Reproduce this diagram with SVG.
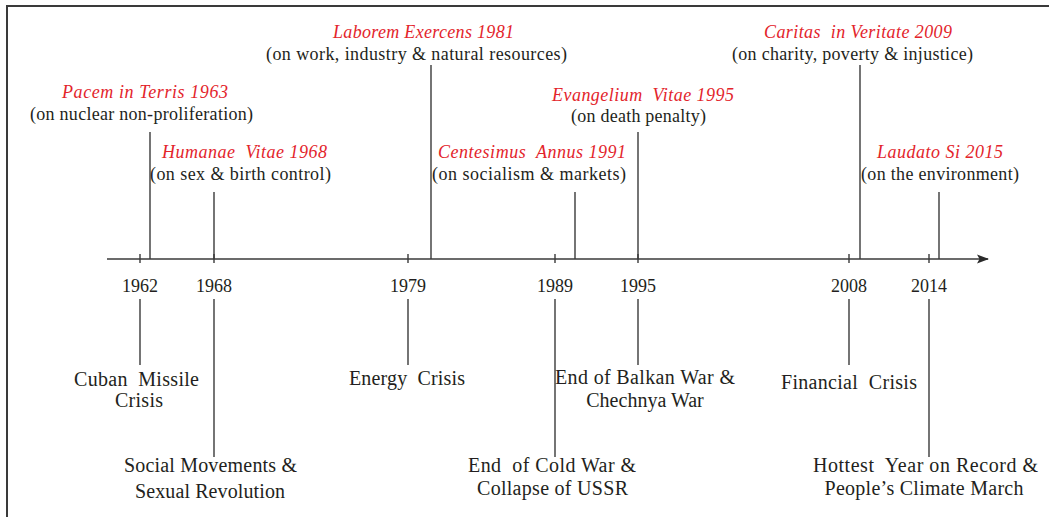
<svg xmlns="http://www.w3.org/2000/svg" width="1049" height="517" viewBox="0 0 1049 517">
<style>
  text { font-family: "Liberation Serif", "Times New Roman", serif; fill: #231f20; text-anchor: middle; }
  .red { fill: #e3242b; font-style: italic; font-size: 18px; }
  .top { font-size: 18px; }
  .yr { font-size: 18px; }
  .low { font-size: 20px; }
  .ln { stroke: #3a3a3a; stroke-width: 1.4; fill: none; }
  .frame { stroke: #3a3a3a; stroke-width: 2; fill: none; }
</style>
<defs>
  <marker id="arrow" viewBox="0 0 12 10" refX="11" refY="5" markerWidth="12" markerHeight="10" markerUnits="userSpaceOnUse" orient="auto">
    <path d="M0,0.5 L12,5 L0,9.5 L2.5,5 Z" fill="#2a2a2a"/>
  </marker>
</defs>
<rect width="1049" height="517" fill="#ffffff"/>
<path class="frame" d="M7,517 L7,6 L1049,6"/>

<g id="connectors">
  <line class="ln" x1="107" y1="259" x2="988" y2="259" marker-end="url(#arrow)"/>
  <!-- ticks -->
  <line class="ln" x1="140" y1="254" x2="140" y2="263"/>
  <line class="ln" x1="214" y1="254" x2="214" y2="263"/>
  <line class="ln" x1="408" y1="254" x2="408" y2="263"/>
  <line class="ln" x1="555" y1="254" x2="555" y2="263"/>
  <line class="ln" x1="638" y1="254" x2="638" y2="263"/>
  <line class="ln" x1="849" y1="254" x2="849" y2="263"/>
  <line class="ln" x1="929" y1="254" x2="929" y2="263"/>
  <!-- upper stems -->
  <line class="ln" x1="150" y1="132" x2="150" y2="259"/>
  <line class="ln" x1="214" y1="192" x2="214" y2="259"/>
  <line class="ln" x1="431" y1="65" x2="431" y2="259"/>
  <line class="ln" x1="575" y1="192" x2="575" y2="259"/>
  <line class="ln" x1="638" y1="132" x2="638" y2="259"/>
  <line class="ln" x1="860" y1="65" x2="860" y2="259"/>
  <line class="ln" x1="939" y1="192" x2="939" y2="259"/>
  <!-- lower stems -->
  <line class="ln" x1="140" y1="299" x2="140" y2="365"/>
  <line class="ln" x1="214" y1="299" x2="214" y2="457"/>
  <line class="ln" x1="408" y1="299" x2="408" y2="365"/>
  <line class="ln" x1="555" y1="299" x2="555" y2="457"/>
  <line class="ln" x1="638" y1="299" x2="638" y2="365"/>
  <line class="ln" x1="849" y1="299" x2="849" y2="365"/>
  <line class="ln" x1="929" y1="299" x2="929" y2="457"/>
</g>

<g id="years">
  <text class="yr" x="140" y="292">1962</text>
  <text class="yr" x="214" y="292">1968</text>
  <text class="yr" x="408" y="292">1979</text>
  <text class="yr" x="555" y="292">1989</text>
  <text class="yr" x="638" y="292">1995</text>
  <text class="yr" x="849" y="292">2008</text>
  <text class="yr" x="929" y="292">2014</text>
</g>

<g id="pacem">
  <text class="red" x="145" y="98" textLength="166" lengthAdjust="spacing">Pacem in Terris 1963</text>
  <text class="top" x="141.5" y="120" textLength="223" lengthAdjust="spacing">(on nuclear non-proliferation)</text>
</g>
<g id="humanae">
  <text class="red" x="244.5" y="158" textLength="165" lengthAdjust="spacing" xml:space="preserve">Humanae  Vitae 1968</text>
  <text class="top" x="240.5" y="180" textLength="181" lengthAdjust="spacing">(on sex &amp; birth control)</text>
</g>
<g id="laborem">
  <text class="red" x="423.5" y="38" textLength="181" lengthAdjust="spacing">Laborem Exercens 1981</text>
  <text class="top" x="416.5" y="60" textLength="301" lengthAdjust="spacing">(on work, industry &amp; natural resources)</text>
</g>
<g id="centesimus">
  <text class="red" x="532" y="158" textLength="188" lengthAdjust="spacing" xml:space="preserve">Centesimus  Annus 1991</text>
  <text class="top" x="529" y="180" textLength="194" lengthAdjust="spacing">(on socialism &amp; markets)</text>
</g>
<g id="evangelium">
  <text class="red" x="643" y="101" textLength="182" lengthAdjust="spacing" xml:space="preserve">Evangelium  Vitae 1995</text>
  <text class="top" x="638.5" y="122" textLength="135" lengthAdjust="spacing">(on death penalty)</text>
</g>
<g id="caritas">
  <text class="red" x="858" y="38" textLength="188" lengthAdjust="spacing" xml:space="preserve">Caritas  in Veritate 2009</text>
  <text class="top" x="852.5" y="60" textLength="241" lengthAdjust="spacing">(on charity, poverty &amp; injustice)</text>
</g>
<g id="laudato">
  <text class="red" x="940" y="158" textLength="126" lengthAdjust="spacing">Laudato Si 2015</text>
  <text class="top" x="940" y="180" textLength="158" lengthAdjust="spacing">(on the environment)</text>
</g>

<g id="cuban">
  <text class="low" x="136.5" y="386" textLength="125" lengthAdjust="spacing" xml:space="preserve">Cuban  Missile</text>
  <text class="low" x="139" y="407" textLength="48" lengthAdjust="spacing">Crisis</text>
</g>
<g id="social">
  <text class="low" x="210.5" y="472" textLength="173" lengthAdjust="spacing">Social Movements &amp;</text>
  <text class="low" x="210" y="498" textLength="150" lengthAdjust="spacing">Sexual Revolution</text>
</g>
<g id="energy">
  <text class="low" x="407" y="385" textLength="116" lengthAdjust="spacing" xml:space="preserve">Energy  Crisis</text>
</g>
<g id="coldwar">
  <text class="low" x="552" y="472" textLength="168" lengthAdjust="spacing" xml:space="preserve">End  of Cold War &amp;</text>
  <text class="low" x="552.5" y="495" textLength="151" lengthAdjust="spacing">Collapse of USSR</text>
</g>
<g id="balkan">
  <text class="low" x="645" y="384" textLength="180" lengthAdjust="spacing">End of Balkan War &amp;</text>
  <text class="low" x="645" y="406.5">Chechnya War</text>
</g>
<g id="financial">
  <text class="low" x="849" y="389" textLength="136" lengthAdjust="spacing" xml:space="preserve">Financial  Crisis</text>
</g>
<g id="hottest">
  <text class="low" x="925.5" y="472" textLength="225" lengthAdjust="spacing" xml:space="preserve">Hottest  Year on Record &amp;</text>
  <text class="low" x="924" y="495" textLength="199" lengthAdjust="spacing">People’s Climate March</text>
</g>
</svg>
